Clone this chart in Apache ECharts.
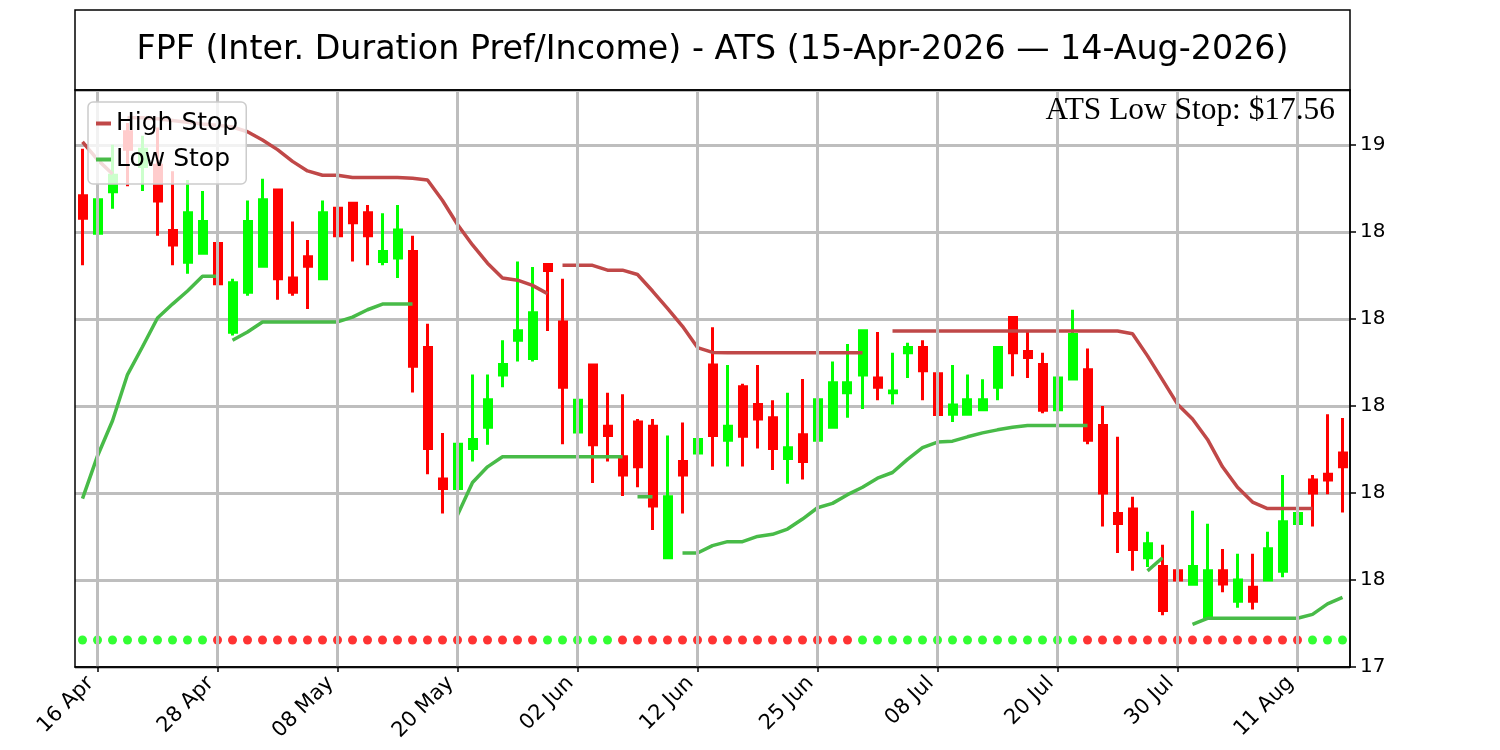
<!DOCTYPE html>
<html><head><meta charset="utf-8">
<script src="https://cdn.jsdelivr.net/npm/echarts@6/dist/echarts.min.js"></script>
<style>html,body{margin:0;padding:0;background:#fff}#c{width:1500px;height:750px}</style>
</head><body><div id="c"></div>
<script>
const title = 'FPF (Inter. Duration Pref/Income) - ATS (15-Apr-2026 \u2014 14-Aug-2026)';
const dates = ['15 Apr','16 Apr','17 Apr','20 Apr','21 Apr','22 Apr','23 Apr','24 Apr','27 Apr','28 Apr','29 Apr','30 Apr',
'01 May','04 May','05 May','06 May','07 May','08 May','11 May','12 May','13 May','14 May','15 May','18 May','19 May','20 May','21 May','22 May','26 May','27 May','28 May','29 May',
'01 Jun','02 Jun','03 Jun','04 Jun','05 Jun','08 Jun','09 Jun','10 Jun','11 Jun','12 Jun','15 Jun','16 Jun','17 Jun','18 Jun','22 Jun','23 Jun','24 Jun','25 Jun','26 Jun','29 Jun','30 Jun',
'01 Jul','02 Jul','06 Jul','07 Jul','08 Jul','09 Jul','10 Jul','13 Jul','14 Jul','15 Jul','16 Jul','17 Jul','20 Jul','21 Jul','22 Jul','23 Jul','24 Jul','27 Jul','28 Jul','29 Jul','30 Jul','31 Jul',
'03 Aug','04 Aug','05 Aug','06 Aug','07 Aug','10 Aug','11 Aug','12 Aug','13 Aug','14 Aug'];

const opens = [18.483,18.397,18.492,18.63,18.55,18.553,18.403,18.330,18.351,18.373,18.169,18.261,
18.321,18.496,18.294,18.343,18.292,18.454,18.466,18.444,18.332,18.340,18.355,18.134,17.832,17.810,17.902,17.951,18.071,18.151,18.109,18.325,
18.193,17.940,18.094,17.953,17.883,17.963,17.953,17.651,17.872,17.892,18.094,17.921,18.044,18.003,17.973,17.879,17.934,17.921,17.951,18.030,18.071,
18.064,18.030,18.122,18.134,18.074,17.981,17.981,17.991,18.043,18.203,18.125,18.095,17.991,18.062,18.083,17.955,17.753,17.763,17.651,17.631,17.621,17.590,
17.515,17.621,17.551,17.583,17.600,17.620,17.730,17.830,17.843,17.892];
const highs = [18.591,18.53,18.60,18.65,18.621,18.64,18.539,18.519,18.494,18.462,18.292,18.472,
18.522,18.496,18.424,18.381,18.472,18.523,18.466,18.462,18.443,18.462,18.391,18.189,17.938,17.991,18.072,18.072,18.151,18.332,18.319,18.325,
18.292,18.111,18.094,18.030,18.027,17.970,17.970,17.932,17.962,17.962,18.181,18.094,18.051,18.094,18.013,18.030,18.062,18.062,18.102,18.142,18.173,
18.170,18.122,18.145,18.151,18.142,18.094,18.072,18.061,18.134,18.203,18.170,18.122,18.094,18.221,18.132,18.000,17.929,17.791,17.711,17.681,17.651,17.759,
17.729,17.671,17.660,17.660,17.711,17.841,17.841,17.841,17.981,17.972];
const lows = [18.323,18.395,18.453,18.505,18.494,18.391,18.323,18.304,18.351,18.153,18.162,18.253,
18.321,18.244,18.253,18.223,18.292,18.372,18.332,18.323,18.323,18.294,18.031,17.843,17.753,17.802,17.872,17.911,18.043,18.102,18.102,18.172,
17.912,17.543,17.823,17.872,17.793,17.813,17.715,17.651,17.753,17.843,17.861,17.861,17.861,17.902,17.853,17.821,17.831,17.921,17.951,17.973,17.993,
18.013,18.003,18.064,18.013,17.953,17.963,17.981,17.991,18.013,18.068,18.064,17.983,17.972,18.062,17.912,17.723,17.662,17.621,17.630,17.519,17.502,17.590,
17.515,17.572,17.536,17.532,17.600,17.606,17.702,17.723,17.797,17.755];
const closes = [18.431,18.474,18.53,18.59,18.59,18.471,18.370,18.444,18.424,18.281,18.283,18.424,
18.474,18.292,18.261,18.321,18.444,18.391,18.421,18.391,18.355,18.404,18.091,17.902,17.810,17.912,17.923,18.014,18.095,18.173,18.214,18.311,
18.043,18.013,17.911,17.932,17.841,17.860,17.770,17.791,17.841,17.923,17.932,17.953,17.930,17.970,17.902,17.904,17.872,18.014,18.053,18.053,18.173,
18.043,18.034,18.134,18.081,17.980,18.002,18.014,18.014,18.134,18.122,18.111,17.990,18.064,18.164,17.921,17.800,17.730,17.670,17.683,17.530,17.600,17.631,
17.621,17.591,17.600,17.551,17.672,17.734,17.753,17.800,17.830,17.860];

// 1 = up (green dot), -1 = down (red dot)
const trend = [1,1,1,1,1,1,1,1,1,
-1,-1,-1,-1,-1,-1,-1,-1,-1,-1,-1,-1,-1,-1,-1,-1,-1,-1,-1,-1,-1,-1,
1,1,1,1,1,
-1,-1,-1,-1,-1,-1,-1,-1,-1,-1,-1,-1,-1,-1,-1,-1,
1,1,1,1,1,1,1,1,1,1,1,1,1,1,1,
-1,-1,-1,-1,-1,-1,-1,-1,-1,-1,-1,-1,-1,-1,-1,
1,1,1];
const dotLevel = 17.462;

const highStop = [18.607,18.566,18.533,
18.662,18.662,18.660,18.656,18.652,18.648,18.645,18.641,18.630,18.611,18.589,18.562,18.540,18.530,18.530,18.525,18.525,18.525,18.525,18.523,18.519,18.472,18.417,18.370,18.328,18.294,18.289,18.277,18.258,
18.323,18.323,18.323,18.312,18.312,18.302,18.264,18.224,18.183,18.134,18.123,18.122,18.122,18.122,18.122,18.122,18.122,18.122,18.122,18.122,18.122,
null,
18.172,18.172,18.172,18.172,18.172,18.172,18.172,18.172,18.172,18.172,18.172,18.172,18.172,18.172,18.172,18.172,18.166,18.115,18.060,18.004,17.970,17.923,17.860,17.813,17.779,17.764,17.764,17.764,17.764,
null,null];
const highStopStarts = [0,3,32,54];

const lowStop = [17.787,17.885,17.966,18.072,18.136,18.202,18.234,18.264,18.298,18.298,
18.151,18.170,18.193,18.193,18.193,18.193,18.193,18.193,18.204,18.221,18.234,18.234,18.234,
null,null,
17.749,17.824,17.860,17.883,17.883,17.883,17.883,17.883,17.883,17.883,17.883,17.883,
17.791,17.791,
null,
17.662,17.662,17.679,17.688,17.688,17.700,17.705,17.717,17.740,17.766,17.776,17.796,17.813,17.834,17.847,17.877,17.904,17.917,17.919,17.929,17.938,17.945,17.951,17.955,17.955,17.955,17.955,17.955,
null,null,null,
17.621,17.651,
null,
17.498,17.512,17.512,17.512,17.512,17.512,17.512,17.512,17.521,17.545,17.56];
const lowStopStarts = [0,10,25,37,40,71,74];

const yTickValues = [17.4,17.6,17.8,18.0,18.2,18.4,18.6];
const yTickLabels = ['17','18','18','18','18','18','19'];
const yMin = 17.4, yMax = 18.726, yStep = 0.2;

const FONT = 'DejaVu Sans';
const xLabelShown = i => i % 8 === 1;

function segments(vals, starts) {
  return starts.map((s, k) => {
    const e = k + 1 < starts.length ? starts[k + 1] - 1 : vals.length - 1;
    return vals.map((v, i) => (i >= s && i <= e ? v : null));
  });
}

const candleData = dates.map((d, i) => [opens[i], closes[i], lows[i], highs[i]]);
const dotData = trend.map((t, i) => ({ value: [i, dotLevel], itemStyle: { color: t > 0 ? '#00ff00' : '#ff0000' } }));

const HIGH_COLOR = '#c04848';
const LOW_COLOR = '#48bb48';

const series = [];
series.push({
  type: 'line', name: '_grid', data: dates.map(() => null), z: 1, silent: true,
  markLine: {
    silent: true, symbol: 'none', animation: false,
    label: { show: false },
    lineStyle: { color: '#bebebe', width: 3, type: 'solid' },
    data: dates.filter((d, i) => xLabelShown(i)).map(d => ({ xAxis: d }))
  }
});
series.push({
  type: 'candlestick', name: 'Price', data: candleData, z: 2, barWidth: 7.5,
  itemStyle: { color: '#00ff00', color0: '#ff0000', borderColor: '#00ff00', borderColor0: '#ff0000', borderWidth: 3 }
});
segments(highStop, highStopStarts).forEach(seg => series.push({
  type: 'line', name: 'High Stop', data: seg, z: 3, symbol: 'none', connectNulls: false,
  color: HIGH_COLOR, lineStyle: { color: HIGH_COLOR, width: 3.5 }
}));
segments(lowStop, lowStopStarts).forEach(seg => series.push({
  type: 'line', name: 'Low Stop', data: seg, z: 3, symbol: 'none', connectNulls: false,
  color: LOW_COLOR, lineStyle: { color: LOW_COLOR, width: 3.5 }
}));
series.push({
  type: 'scatter', name: 'Trend', data: dotData, symbolSize: 9, z: 4
});

const lastLow = lowStop[lowStop.length - 1];

const chart = echarts.init(document.getElementById('c'), null, { renderer: 'canvas' });
chart.setOption({
  animation: false,
  backgroundColor: '#ffffff',
  textStyle: { fontFamily: FONT },
  grid: { left: 75, right: 150, top: 90, bottom: 83, show: false, outerBoundsMode: 'none', containLabel: false },
  legend: {
    data: ['High Stop', 'Low Stop'],
    orient: 'vertical', left: 88, top: 102, z: 10,
    backgroundColor: 'rgba(255,255,255,0.8)', borderColor: '#cccccc', borderWidth: 1.5, borderRadius: 5,
    padding: [9, 8, 12, 8], itemGap: 11, itemWidth: 15, itemHeight: 4, icon: 'rect',
    textStyle: { fontFamily: FONT, fontSize: 25, color: '#000' }
  },
  xAxis: {
    type: 'category', data: dates, boundaryGap: true,
    axisLine: { show: true, lineStyle: { color: '#000', width: 1.5 } },
    axisTick: { show: true, alignWithLabel: true, interval: i => xLabelShown(i), length: 5, lineStyle: { color: '#000', width: 1.5 } },
    axisLabel: { interval: i => xLabelShown(i), rotate: 45, fontFamily: FONT, fontSize: 21, color: '#000', margin: 6, padding: [0, 10, 0, 0] },
    splitLine: { show: false }
  },
  yAxis: {
    type: 'value', position: 'right', min: yMin, max: yMax, interval: yStep, scale: true,
    axisLine: { show: true, lineStyle: { color: '#000', width: 1.5 } },
    axisTick: { show: true, length: 6, lineStyle: { color: '#000', width: 1.5 } },
    axisLabel: {
      fontFamily: FONT, fontSize: 20, color: '#000', margin: 10, showMaxLabel: false,
      formatter: v => {
        const k = yTickValues.findIndex(t => Math.abs(t - v) < 1e-6);
        return k >= 0 ? yTickLabels[k] : '';
      }
    },
    splitLine: { show: true, lineStyle: { color: '#bebebe', width: 3 } }
  },
  series: series,
  graphic: [
    { type: 'rect', shape: { x: 75, y: 10, width: 1275, height: 80 }, style: { fill: 'none', stroke: '#000', lineWidth: 1.5 }, z: 100, silent: true },
    { type: 'rect', shape: { x: 75, y: 90, width: 1275, height: 577 }, style: { fill: 'none', stroke: '#000', lineWidth: 1.5 }, z: 100, silent: true },
    { type: 'text', x: 712.5, y: 50, style: { text: title, fontFamily: FONT, fontSize: 33.3, fill: '#000', textAlign: 'center', textVerticalAlign: 'middle' }, z: 100, silent: true },
    { type: 'text', x: 1335, y: 111, style: { text: 'ATS Low Stop: $' + lastLow.toFixed(2), fontFamily: 'Liberation Serif', fontSize: 31.4, fill: '#000', textAlign: 'right', textVerticalAlign: 'middle' }, z: 100, silent: true }
  ]
});
</script></body></html>
